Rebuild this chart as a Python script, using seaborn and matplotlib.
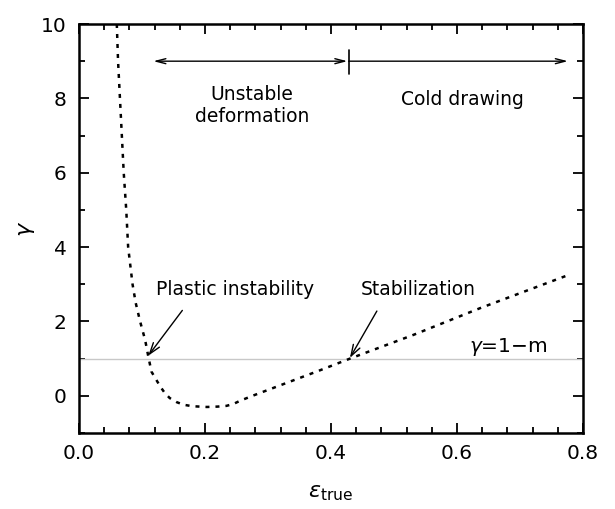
import matplotlib
matplotlib.use("Agg")
import matplotlib.pyplot as plt
import seaborn as sns
import pandas as pd
from matplotlib.ticker import MultipleLocator

# ---- data ----
eps_true = [0.060, 0.062, 0.065, 0.071, 0.075, 0.078, 0.085, 0.090, 0.097, 0.105,
            0.110, 0.115, 0.122, 0.129, 0.136, 0.144, 0.155, 0.166, 0.180, 0.203,
            0.220, 0.234, 0.245, 0.256, 0.280, 0.319, 0.380, 0.430, 0.531, 0.637, 0.777]
gamma = [10.0, 9.0, 8.0, 6.0, 5.0, 4.0, 3.0, 2.5, 2.0, 1.5,
         1.06, 0.65, 0.45, 0.25, 0.08, -0.06, -0.17, -0.24, -0.28, -0.30,
         -0.29, -0.27, -0.22, -0.13, 0.03, 0.28, 0.67, 1.0, 1.64, 2.36, 3.25]
gamma_ref = 1.0          # gamma = 1 - m
x_ticks = [0.0, 0.2, 0.4, 0.6, 0.8]
y_ticks = [0, 2, 4, 6, 8, 10]

df = pd.DataFrame({"eps": eps_true, "gamma": gamma})

sns.set_style("ticks")
plt.rcParams["font.family"] = ["DejaVu Sans"]
plt.rcParams["text.color"] = "black"
plt.rcParams["axes.labelcolor"] = "black"

fig = plt.figure(figsize=(6.15, 5.09), dpi=100)
ax = fig.add_axes([79 / 615, 1 - 433 / 509, (583 - 79) / 615, (433 - 24) / 509])

ax.axhline(gamma_ref, color="#c8c8c8", lw=1.0, zorder=1)
sns.lineplot(data=df, x="eps", y="gamma", sort=False, ax=ax, color="black",
             lw=1.8, linestyle=(0, (1.6, 2.4)), zorder=3)

ax.set_xlim(0.0, 0.8)
ax.set_ylim(-1, 10)
ax.set_xticks(x_ticks)
ax.set_xticklabels([f"{v:.1f}" for v in x_ticks])
ax.set_yticks(y_ticks)
ax.xaxis.set_minor_locator(MultipleLocator(0.04))
ax.yaxis.set_minor_locator(MultipleLocator(1))
ax.tick_params(which="both", direction="in", top=True, right=True, width=1.3,
               labelsize=14.5, colors="black")
ax.tick_params(axis="x", pad=8)
ax.tick_params(axis="y", pad=9)
ax.tick_params(which="major", length=7)
ax.tick_params(which="minor", length=4)
for s in ax.spines.values():
    s.set_linewidth(1.8)
    s.set_color("black")

ax.set_xlabel(r"$\varepsilon_{\mathrm{true}}$", fontsize=16, labelpad=14)
ax.set_ylabel(r"$\gamma$", fontsize=16, labelpad=3)

# top arrows
ax.annotate("", xy=(0.118, 9.0), xytext=(0.426, 9.0),
            arrowprops=dict(arrowstyle="<->,head_length=0.7,head_width=0.18",
                            color="black", lw=1.0, shrinkA=0, shrinkB=0))
ax.plot([0.428, 0.428], [8.65, 9.3], color="black", lw=1.2)
ax.annotate("", xy=(0.776, 9.0), xytext=(0.428, 9.0),
            arrowprops=dict(arrowstyle="->,head_length=0.7,head_width=0.18",
                            color="black", lw=1.0, shrinkA=0, shrinkB=0))

ax.text(0.275, 7.8, "Unstable\ndeformation", ha="center", va="center",
        fontsize=13.5, linespacing=1.2)
ax.text(0.609, 7.98, "Cold drawing", ha="center", va="center", fontsize=13.5)

ax.annotate("Plastic instability", xy=(0.110, 1.08), xytext=(0.122, 2.85),
            fontsize=13.5, va="center", ha="left",
            arrowprops=dict(arrowstyle="->,head_length=0.6,head_width=0.2",
                            color="black", lw=1.0,
                            relpos=(0.22, 0.0), shrinkA=7, shrinkB=0))
ax.annotate("Stabilization", xy=(0.430, 1.02), xytext=(0.447, 2.85),
            fontsize=13.5, va="center", ha="left",
            arrowprops=dict(arrowstyle="->,head_length=0.6,head_width=0.2",
                            color="black", lw=1.0,
                            relpos=(0.2, 0.0), shrinkA=7, shrinkB=0))
ax.text(0.682, 1.32, r"$\gamma$=1$-$m", ha="center", va="center", fontsize=14.5)

fig.savefig("out.png", dpi=100)
